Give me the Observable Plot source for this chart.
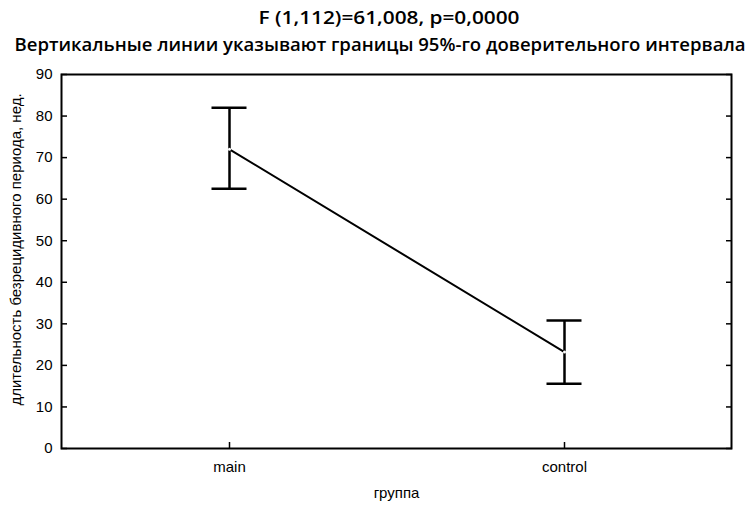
<!DOCTYPE html>
<html><head><meta charset="utf-8">
<script src="https://cdn.jsdelivr.net/npm/d3@7"></script>
<script src="https://cdn.jsdelivr.net/npm/@observablehq/plot@0.6"></script>
<style>
body{margin:0;background:#fff;width:750px;height:512px;overflow:hidden}
svg{display:block}
</style></head><body>
<div id="title"></div>
<div id="chart"></div>
<script>
const titleLines = ["F (1,112)=61,008, p=0,0000", "Вертикальные линии указывают границы 95%-го доверительного интервала"];
const groups = ["main", "control"];
const means = [72.0, 23.2];
const upper = [82.0, 30.8];
const lower = [62.5, 15.6];
const yTicks = [0, 10, 20, 30, 40, 50, 60, 70, 80, 90];
const yLabel = "длительность безрецидивного периода, нед.";
const xLabel = "группа";

const data = groups.map((g, i) => ({group: g, mean: means[i], lo: lower[i], hi: upper[i]}));

// title
const ts = d3.select("#title").append("svg").attr("width", 750).attr("height", 62)
  .attr("font-family", "'Open Sans', 'Noto Sans', sans-serif").attr("font-weight", 600).attr("font-size", 18);
const tpos = [{x: 389, y: 24, len: 261}, {x: 380, y: 51, len: 731}];
titleLines.forEach((t, i) => {
  ts.append("text").attr("x", tpos[i].x).attr("y", tpos[i].y).attr("text-anchor", "middle")
    .attr("textLength", tpos[i].len).attr("lengthAdjust", "spacingAndGlyphs").text(t);
});

const chart = Plot.plot({
  width: 750, height: 450,
  marginTop: 12, marginBottom: 64, marginLeft: 61, marginRight: 19,
  style: {fontFamily: "'Liberation Sans', Arial, sans-serif", fontSize: "15px", color: "#000", background: "#fff"},
  x: {type: "point", domain: groups, padding: 0.5},
  y: {domain: [0, 90]},
  marks: [
    Plot.axisY({ticks: yTicks, tickSize: 0, tickPadding: 9, label: null}),
    Plot.axisY({ticks: yTicks, tickSize: 6, dx: 6, fill: "none", label: null, strokeWidth: 1.5}),
    Plot.axisY({ticks: yTicks, anchor: "right", tickSize: 6, dx: -6, fill: "none", label: null, strokeWidth: 1.5}),
    Plot.axisX({tickSize: 0, tickPadding: 13, label: null}),
    Plot.axisX({tickSize: 6, dy: -6, fill: "none", label: null, strokeWidth: 1.5}),
    Plot.frame({stroke: "#000", strokeWidth: 2}),
    Plot.line(data, {x: "group", y: "mean", stroke: "#000", strokeWidth: 2}),
    Plot.ruleX(data, {x: "group", y1: "lo", y2: "hi", stroke: "#000", strokeWidth: 2.5}),
    Plot.ruleY(data, {x1: "group", x2: "group", y: "hi", insetLeft: -17.5, insetRight: -17.5, stroke: "#000", strokeWidth: 2.5}),
    Plot.ruleY(data, {x1: "group", x2: "group", y: "lo", insetLeft: -17.5, insetRight: -17.5, stroke: "#000", strokeWidth: 2.5}),
    Plot.dot(data, {x: "group", y: "mean", r: 1.5, fill: "#fff"}),
    Plot.text([yLabel], {frameAnchor: "left", textAnchor: "middle", rotate: -90, dx: -45, dy: -12, fill: "#000"}),
    Plot.text([xLabel], {frameAnchor: "bottom", dy: 49, fill: "#000"})
  ]
});
document.getElementById("chart").appendChild(chart);
</script>
</body></html>
